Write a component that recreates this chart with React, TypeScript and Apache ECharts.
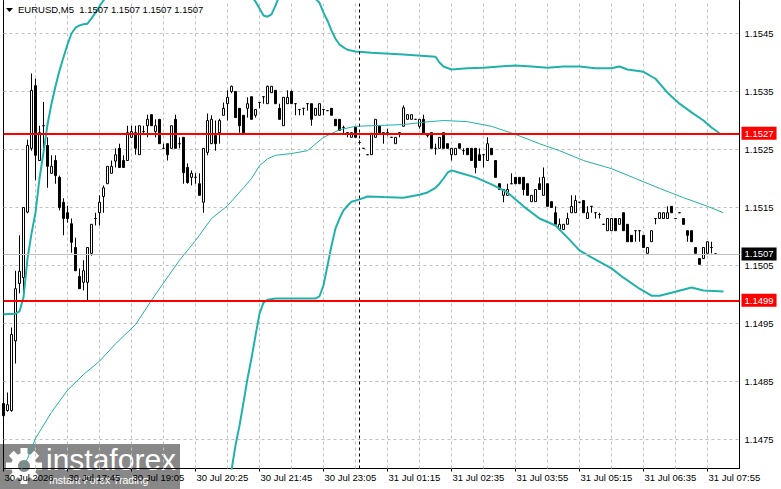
import React, { useEffect, useRef } from "react";
import * as echarts from "echarts";

// ---------- data ----------
const symbolTitle = "EURUSD,M5";
const totalSlots = 185; // bar slots across the plot (incl. empty right margin)
const sessionStartIndex = [0, 89];
const sessionDay = ["30 Jul", "31 Jul"];
const sessionStartMinutes = [16 * 60 + 25, 40];
const firstLabelText = "30 Jul 2026";

const openPrices = [
  1.14812, 1.148, 1.148, 1.1492, 1.15019, 1.15029, 1.15142, 1.15252, 1.1536, 1.15231,
  1.15291, 1.15257, 1.15209, 1.15231, 1.15202, 1.15159, 1.15141, 1.15122, 1.15081, 1.15031,
  1.15021, 1.15021, 1.15071, 1.15131, 1.15141, 1.15169, 1.15191, 1.15209, 1.1523, 1.15252,
  1.15231, 1.15231, 1.15271, 1.15279, 1.15241, 1.15281, 1.15291, 1.1531, 1.15281, 1.15302,
  1.15252, 1.1526, 1.15252, 1.15302, 1.1526, 1.15271, 1.15219, 1.15202, 1.15202, 1.15191,
  1.15159, 1.15245, 1.1526, 1.15274, 1.15279, 1.15309, 1.15329, 1.1535, 1.1535, 1.15321,
  1.15309, 1.15321, 1.15341, 1.15309, 1.15331, 1.15341, 1.15329, 1.15348, 1.15352, 1.15321,
  1.15291, 1.15329, 1.1535, 1.15329, 1.15319, 1.15321, 1.15329, 1.15329, 1.15309, 1.15309,
  1.15319, 1.15317, 1.15321, 1.15302, 1.15302, 1.15288, 1.15279, 1.15271, 1.15288, 1.15262,
  1.15252, 1.15241, 1.15241, 1.15271, 1.1529, 1.15279, 1.15279, 1.15271, 1.1526, 1.15279,
  1.1529, 1.15302, 1.15302, 1.15302, 1.1529, 1.15302, 1.15274, 1.15279, 1.15252, 1.15252,
  1.15279, 1.1526, 1.15241, 1.15241, 1.1526, 1.15248, 1.15252, 1.15252, 1.15252, 1.15241,
  1.15241, 1.15231, 1.15252, 1.15231, 1.15191, 1.15171, 1.15171, 1.15191, 1.15202, 1.15202,
  1.15202, 1.15191, 1.1516, 1.1516, 1.15191, 1.15171, 1.15191, 1.1516, 1.15141, 1.15112,
  1.15112, 1.15121, 1.15141, 1.15141, 1.15159, 1.15162, 1.15131, 1.15152, 1.15141, 1.15138,
  1.15121, 1.1511, 1.1511, 1.15131, 1.15121, 1.15141, 1.15121, 1.15102, 1.1511, 1.1511,
  1.15102, 1.15071, 1.15091, 1.15131, 1.15131, 1.15131, 1.15131, 1.15152, 1.15131, 1.15141,
  1.15131, 1.1511, 1.1511, 1.15081, 1.15062, 1.15062, 1.15071, 1.15081, 1.1507,
];
const closePrices = [
  1.14791, 1.1481, 1.14931, 1.1501, 1.1504, 1.1515, 1.15257, 1.15352, 1.1524, 1.15279,
  1.15291, 1.15221, 1.15221, 1.15205, 1.1515, 1.15131, 1.15131, 1.1509, 1.15041, 1.1501,
  1.15041, 1.15081, 1.15121, 1.15131, 1.15159, 1.15184, 1.15221, 1.15221, 1.15241, 1.15219,
  1.15219, 1.15279, 1.15281, 1.15252, 1.15291, 1.15281, 1.15302, 1.15291, 1.15291, 1.1526,
  1.15252, 1.15241, 1.15291, 1.15252, 1.1526, 1.1521, 1.15193, 1.15209, 1.15202, 1.15171,
  1.15252, 1.153, 1.15302, 1.1526, 1.153, 1.15321, 1.1534, 1.15359, 1.15305, 1.15291,
  1.15279, 1.15329, 1.15302, 1.15319, 1.15331, 1.15341, 1.15359, 1.15359, 1.15329, 1.15302,
  1.1534, 1.1534, 1.15329, 1.15329, 1.15319, 1.15321, 1.15329, 1.15302, 1.15321, 1.15329,
  1.15319, 1.15317, 1.15309, 1.15291, 1.15283, 1.15288, 1.15279, 1.15279, 1.15271, 1.15262,
  1.15252, 1.15241, 1.15278, 1.15302, 1.15278, 1.15279, 1.15279, 1.15271, 1.15271, 1.15279,
  1.15322, 1.1531, 1.1531, 1.15302, 1.15302, 1.15279, 1.15274, 1.15252, 1.15252, 1.15271,
  1.15252, 1.15252, 1.15252, 1.15252, 1.15252, 1.15248, 1.15241, 1.15231, 1.15219, 1.15231,
  1.15241, 1.1526, 1.15241, 1.15202, 1.15181, 1.15181, 1.15181, 1.15191, 1.15191, 1.15191,
  1.15181, 1.15171, 1.15171, 1.15181, 1.15181, 1.15202, 1.15152, 1.1515, 1.15121, 1.15121,
  1.15121, 1.15131, 1.15152, 1.15162, 1.15159, 1.15141, 1.15141, 1.15152, 1.15141, 1.15138,
  1.15121, 1.15131, 1.15131, 1.1511, 1.15131, 1.1511, 1.15091, 1.15091, 1.1511, 1.1511,
  1.15081, 1.15081, 1.1511, 1.15131, 1.15141, 1.15141, 1.15141, 1.15141, 1.15131, 1.15141,
  1.15121, 1.15102, 1.15091, 1.15071, 1.15052, 1.15081, 1.15091, 1.15081, 1.1507,
];
const lowPrices = [
  1.14786, 1.14798, 1.14798, 1.14881, 1.15002, 1.15005, 1.1514, 1.15248, 1.15197, 1.15231,
  1.15243, 1.15184, 1.15209, 1.15191, 1.15145, 1.15102, 1.15124, 1.15072, 1.15041, 1.1501,
  1.15007, 1.1499, 1.15067, 1.15119, 1.15119, 1.15141, 1.15191, 1.15209, 1.15219, 1.15219,
  1.15219, 1.15231, 1.15271, 1.15241, 1.15241, 1.15278, 1.15271, 1.15291, 1.15271, 1.1526,
  1.15252, 1.15231, 1.15252, 1.15252, 1.15252, 1.15191, 1.15191, 1.15188, 1.15191, 1.15171,
  1.15141, 1.1524, 1.1526, 1.15248, 1.1526, 1.15309, 1.153, 1.15347, 1.15305, 1.15279,
  1.15279, 1.15305, 1.15302, 1.15305, 1.15321, 1.15329, 1.15329, 1.15348, 1.15329, 1.15302,
  1.15291, 1.15329, 1.15329, 1.15309, 1.15309, 1.15309, 1.15317, 1.15291, 1.15309, 1.15309,
  1.15309, 1.15317, 1.15309, 1.15291, 1.15283, 1.15278, 1.15271, 1.15271, 1.15271, 1.15259,
  1.15252, 1.15241, 1.15241, 1.15271, 1.15278, 1.1526, 1.15274, 1.15271, 1.1526, 1.15271,
  1.1529, 1.15302, 1.15302, 1.15302, 1.15286, 1.15279, 1.15271, 1.15252, 1.15241, 1.15252,
  1.15252, 1.15252, 1.15231, 1.15241, 1.15252, 1.15241, 1.15241, 1.15231, 1.15209, 1.15231,
  1.15219, 1.15231, 1.15241, 1.15202, 1.15181, 1.15159, 1.15171, 1.15191, 1.15191, 1.15191,
  1.15171, 1.15171, 1.1516, 1.1516, 1.15181, 1.15171, 1.15152, 1.1515, 1.15121, 1.1511,
  1.15112, 1.15121, 1.15141, 1.15141, 1.15159, 1.15141, 1.15131, 1.15141, 1.15131, 1.15131,
  1.15121, 1.1511, 1.1511, 1.1511, 1.15121, 1.1511, 1.15091, 1.15091, 1.15091, 1.15091,
  1.15081, 1.15071, 1.15091, 1.15121, 1.15131, 1.15131, 1.15131, 1.15141, 1.15131, 1.15141,
  1.15121, 1.15091, 1.15091, 1.15071, 1.15052, 1.15062, 1.15071, 1.15071, 1.1507,
];
const highPrices = [
  1.14817, 1.14831, 1.14943, 1.15041, 1.15102, 1.1515, 1.15267, 1.15381, 1.15372, 1.15291,
  1.15332, 1.15271, 1.1524, 1.1524, 1.15205, 1.15166, 1.15153, 1.15131, 1.15098, 1.15045,
  1.15059, 1.15081, 1.15121, 1.15141, 1.15171, 1.15188, 1.15221, 1.15231, 1.15252, 1.1526,
  1.1524, 1.15291, 1.15291, 1.15291, 1.15291, 1.15291, 1.1531, 1.1531, 1.15302, 1.15302,
  1.1526, 1.1526, 1.15291, 1.1531, 1.15271, 1.15271, 1.15226, 1.15214, 1.15209, 1.15209,
  1.15252, 1.15312, 1.15309, 1.153, 1.15303, 1.15331, 1.15352, 1.1536, 1.1535, 1.15321,
  1.15309, 1.1534, 1.15341, 1.15319, 1.15331, 1.15341, 1.1536, 1.15359, 1.15352, 1.15329,
  1.1534, 1.15352, 1.15352, 1.15329, 1.15319, 1.15321, 1.15329, 1.15329, 1.15321, 1.15329,
  1.15319, 1.15317, 1.15321, 1.15302, 1.15302, 1.15291, 1.15279, 1.15279, 1.15288, 1.15266,
  1.15252, 1.15241, 1.15278, 1.15302, 1.1529, 1.15279, 1.15286, 1.15271, 1.15271, 1.15279,
  1.15326, 1.1531, 1.1531, 1.15302, 1.15302, 1.1531, 1.15274, 1.15279, 1.1526, 1.15271,
  1.15279, 1.1526, 1.15252, 1.15252, 1.1526, 1.15252, 1.15252, 1.15252, 1.15252, 1.15252,
  1.15241, 1.15271, 1.15252, 1.15231, 1.15191, 1.15181, 1.15191, 1.15209, 1.15202, 1.15202,
  1.15202, 1.15191, 1.15171, 1.15181, 1.15202, 1.15219, 1.15191, 1.1516, 1.15152, 1.15131,
  1.15121, 1.15141, 1.15171, 1.15171, 1.15159, 1.15162, 1.15152, 1.15152, 1.15141, 1.15141,
  1.15121, 1.15131, 1.15131, 1.15131, 1.15131, 1.15141, 1.15121, 1.15102, 1.1511, 1.1511,
  1.15102, 1.15081, 1.1511, 1.15131, 1.15141, 1.15141, 1.15152, 1.15152, 1.15131, 1.15141,
  1.15131, 1.1511, 1.1511, 1.15081, 1.15062, 1.15081, 1.15091, 1.15091, 1.1507,
];

// Bollinger bands: [bar index, price]
const upperBand = [
  [0, 1.14966], [3, 1.14967], [4, 1.14971], [5, 1.14995], [6, 1.15062], [7, 1.15105],
  [8, 1.15141], [9, 1.152], [10, 1.15245], [11, 1.15293], [12, 1.15329], [13, 1.15359],
  [14, 1.15386], [15, 1.15409], [16, 1.15431], [17, 1.1545], [18, 1.1546], [19, 1.15464],
  [20, 1.15466], [21, 1.15467], [22, 1.15476], [23, 1.15486], [24, 1.15497], [25, 1.15507],
  [28, 1.1553], [35, 1.1556], [45, 1.1557], [55, 1.15545], [62, 1.15515], [63, 1.15505],
  [64, 1.15493], [65, 1.15481], [66, 1.15479], [67, 1.15483], [68, 1.15498], [69, 1.15516],
  [72, 1.1553], [76, 1.15525], [78, 1.1551], [79, 1.15503], [80, 1.15486], [81, 1.15472],
  [82, 1.15455], [83, 1.15441], [84, 1.15431], [85, 1.15426], [86, 1.15422], [88, 1.15419],
  [92, 1.15417], [100, 1.15414], [108, 1.1541], [109, 1.154], [110, 1.15393], [112, 1.15388],
  [116, 1.1539], [120, 1.15391], [124, 1.15393], [128, 1.15395], [132, 1.15393], [136, 1.15391],
  [140, 1.15393], [144, 1.15393], [148, 1.1539], [152, 1.1539], [154, 1.15393], [156, 1.15388],
  [160, 1.15384], [163, 1.15372], [166, 1.15348], [169, 1.15329], [172, 1.15314], [175, 1.153],
  [177, 1.15288], [179, 1.15278],
];
const middleBand = [
  [4, 1.14693], [6, 1.14717], [8, 1.14752], [12, 1.14797], [16, 1.14835], [20, 1.14862],
  [24, 1.14885], [28, 1.14915], [33, 1.14948], [37, 1.1499], [40, 1.1502], [44, 1.15059],
  [48, 1.15093], [52, 1.15131], [56, 1.15153], [60, 1.15184], [62, 1.152], [64, 1.15222],
  [66, 1.15234], [68, 1.1524], [72, 1.15243], [76, 1.15248], [80, 1.15271], [84, 1.15284],
  [88, 1.1529], [92, 1.15291], [100, 1.15293], [105, 1.15297], [110, 1.153], [116, 1.15298],
  [122, 1.1529], [128, 1.15276], [134, 1.1526], [139, 1.15248], [145, 1.15231], [152, 1.15217],
  [158, 1.152], [164, 1.15183], [170, 1.15167], [176, 1.15152], [180, 1.15141],
];
const lowerBand = [
  [56, 1.14662], [57, 1.14697], [58, 1.1474], [59, 1.14774], [60, 1.14814], [61, 1.14855],
  [62, 1.1489], [63, 1.14929], [64, 1.14967], [65, 1.14986], [66, 1.14991], [68, 1.14993],
  [78, 1.14993], [79, 1.14997], [80, 1.15016], [81, 1.1505], [82, 1.15084], [83, 1.15114],
  [84, 1.15131], [85, 1.15145], [86, 1.15153], [87, 1.1516], [89, 1.15164], [91, 1.15169],
  [95, 1.15168], [100, 1.15167], [104, 1.15172], [106, 1.15176], [108, 1.15184], [109, 1.15191],
  [110, 1.152], [111, 1.1521], [112, 1.15214], [114, 1.1521], [118, 1.15202], [122, 1.1519],
  [126, 1.15176], [130, 1.15152], [134, 1.15131], [138, 1.15119], [141, 1.15098], [144, 1.15076],
  [147, 1.15064], [152, 1.15045], [155, 1.15029], [159, 1.1501], [162, 1.14998], [164, 1.14998],
  [167, 1.15003], [172, 1.15012], [175, 1.15007], [180, 1.15005],
];

const levelLines = [1.15278, 1.1499];
const gridLevels = [1.1475, 1.1485, 1.1495, 1.1505, 1.1515, 1.1525, 1.1535, 1.1545];
const separatorIndex = 89;
const yMin = 1.147;
const yMax = 1.155069;

// ---------- helpers ----------
function buildCategories(): string[] {
  const out: string[] = [];
  for (let i = 0; i < totalSlots; i++) {
    let s = 0;
    for (let k = 0; k < sessionStartIndex.length; k++) if (i >= sessionStartIndex[k]) s = k;
    const mins = sessionStartMinutes[s] + (i - sessionStartIndex[s]) * 5;
    const h = Math.floor(mins / 60) % 24;
    const m = mins % 60;
    out.push(`${sessionDay[s]} ${String(h).padStart(2, "0")}:${String(m).padStart(2, "0")}`);
  }
  return out;
}

const FONT = "Liberation Sans, Arial, sans-serif";
const TEAL = "#20b2aa";
const GRID_GRAY = "#c0c0c0";

export default function App() {
  const ref = useRef<HTMLDivElement>(null);

  useEffect(() => {
    if (!ref.current) return;
    const chart = echarts.init(ref.current, undefined, { renderer: "svg" });
    const categories = buildCategories();
    const candles = openPrices.map((o, i) => [o, closePrices[i], lowPrices[i], highPrices[i]]);
    const last = candles.length - 1;
    const lastClose = closePrices[last];
    const titleText = `${symbolTitle}  ${openPrices[last].toFixed(4)} ${highPrices[last].toFixed(4)} ${lowPrices[last].toFixed(4)} ${closePrices[last].toFixed(4)}`;

    const gridLineSeries = (data: number[][]) => ({
      type: "line",
      data,
      showSymbol: false,
      silent: true,
      z: 1,
      lineStyle: { color: GRID_GRAY, type: [3, 3], width: 1 },
    });
    const horizontalGrid = gridLevels.map((v) =>
      gridLineSeries([
        [0, v],
        [totalSlots - 1, v],
      ])
    );
    const verticalGrid: any[] = [];
    for (let i = 8; i < totalSlots - 1; i += 8) {
      verticalGrid.push(
        gridLineSeries([
          [i, yMin],
          [i, yMax],
        ])
      );
    }

    const gearTeeth = Array.from({ length: 8 }, (_, k) => ({
      type: "rect",
      x: 24,
      y: 466,
      rotation: (k * Math.PI) / 4,
      shape: { x: -3.5, y: -18, width: 7, height: 8 },
      style: { fill: "#ffffff" },
    }));

    const option: any = {
      animation: false,
      backgroundColor: "#ffffff",
      // half-pixel offsets keep 1px grid lines crisp
      grid: { left: 3.5, right: 41.5, top: 0.5, bottom: 20.5, containLabel: false },
      xAxis: {
        type: "category",
        data: categories,
        boundaryGap: false,
        axisLine: { show: true, lineStyle: { color: "#000", width: 1 } },
        axisTick: {
          show: true,
          interval: (idx: number) => idx % 16 === 0,
          length: 3,
          lineStyle: { color: "#000" },
        },
        axisLabel: {
          show: true,
          interval: (idx: number) => idx % 16 === 0,
          formatter: (val: string, idx: number) => (idx === 0 ? firstLabelText : val),
          color: "#000",
          fontSize: 9.5,
          fontFamily: FONT,
          align: "left",
          margin: 4,
          padding: [0, 0, 0, 1],
        },
        splitLine: { show: false },
      },
      yAxis: [
        {
          type: "value",
          position: "right",
          min: yMin,
          max: yMax,
          interval: 0.0005,
          scale: true,
          axisLine: { show: true, lineStyle: { color: "#000", width: 1 } },
          axisTick: { show: false },
          splitLine: { show: false },
          axisLabel: {
            color: "#000",
            fontSize: 9.5,
            fontFamily: FONT,
            margin: 5,
            showMinLabel: false,
            showMaxLabel: false,
            formatter: (v: number) => (Math.round(v * 10000) % 10 === 5 ? v.toFixed(4) : ""),
          },
        },
        {
          type: "value",
          position: "left",
          min: yMin,
          max: yMax,
          scale: true,
          axisLine: { show: true, lineStyle: { color: "#000", width: 1 } },
          axisTick: { show: false },
          axisLabel: { show: false },
          splitLine: { show: false },
        },
      ],
      series: [
        ...horizontalGrid,
        ...verticalGrid,
        {
          name: "marks",
          type: "line",
          data: categories.map(() => null),
          z: 1,
          silent: true,
          showSymbol: false,
          markLine: {
            silent: true,
            precision: 6,
            symbol: ["none", "none"],
            animation: false,
            data: [
              {
                yAxis: lastClose,
                lineStyle: { color: "#c0c0c0", type: "solid", width: 1 },
                label: {
                  show: true,
                  position: "end",
                  distance: 2,
                  formatter: () => lastClose.toFixed(4),
                  color: "#ffffff",
                  backgroundColor: "#000000",
                  padding: [2, 3, 1, 3],
                  fontSize: 9.5,
                  fontFamily: FONT,
                },
              },
              {
                xAxis: categories[separatorIndex],
                lineStyle: { color: "#000000", type: [3, 3], width: 1 },
                label: { show: false },
              },
            ],
          },
        },
        {
          name: "EURUSD",
          type: "candlestick",
          data: candles,
          barWidth: 3,
          z: 2,
          itemStyle: {
            color: "#ffffff",
            color0: "#000000",
            borderColor: "#000000",
            borderColor0: "#000000",
            borderWidth: 1,
          },
        },
        {
          name: "BB upper",
          type: "line",
          data: upperBand,
          showSymbol: false,
          z: 3,
          lineStyle: { color: TEAL, width: 2 },
        },
        {
          name: "BB middle",
          type: "line",
          data: middleBand,
          showSymbol: false,
          z: 3,
          lineStyle: { color: TEAL, width: 1 },
        },
        {
          name: "BB lower",
          type: "line",
          data: lowerBand,
          showSymbol: false,
          z: 3,
          lineStyle: { color: TEAL, width: 2 },
        },
        {
          name: "levels",
          type: "line",
          data: categories.map(() => null),
          z: 4,
          silent: true,
          showSymbol: false,
          markLine: {
            silent: true,
            precision: 6,
            symbol: ["none", "none"],
            animation: false,
            data: levelLines.map((v) => ({
              yAxis: v,
              lineStyle: { color: "#ff0000", type: "solid", width: 2 },
              label: {
                show: true,
                position: "end",
                distance: 2,
                formatter: () => v.toFixed(5).slice(0, 6),
                color: "#ffffff",
                backgroundColor: "#ff0000",
                padding: [2, 3, 1, 3],
                fontSize: 9.5,
                fontFamily: FONT,
              },
            })),
          },
        },
      ],
      graphic: [
        {
          type: "polygon",
          shape: { points: [[6, 8], [13, 8], [9.5, 12]] },
          style: { fill: "#000" },
          z: 50,
        },
        {
          type: "text",
          left: 18,
          top: 4,
          style: { text: titleText, fill: "#000", fontSize: 9.5, fontFamily: FONT },
          z: 50,
        },
        {
          type: "group",
          z: 100,
          children: [
            {
              type: "rect",
              shape: { x: 0, y: 444, width: 180, height: 45 },
              style: { fill: "rgba(115,115,115,0.85)" },
            },
            ...gearTeeth,
            {
              type: "ring",
              shape: { cx: 24, cy: 466, r: 13, r0: 6 },
              style: { fill: "#ffffff" },
            },
            {
              type: "text",
              x: 46,
              y: 444,
              style: {
                text: "instaforex",
                fill: "#ffffff",
                fontSize: 30,
                fontFamily: FONT,
              },
            },
            {
              type: "text",
              x: 49,
              y: 474,
              style: {
                text: "Instant Forex Trading",
                fill: "#ffffff",
                fontSize: 10.5,
                fontFamily: FONT,
              },
            },
          ],
        },
      ],
    };

    chart.setOption(option);
    return () => chart.dispose();
  }, []);

  return (
    <div
      ref={ref}
      style={{ position: "fixed", left: 0, top: 0, width: 781, height: 489, background: "#fff" }}
    />
  );
}
